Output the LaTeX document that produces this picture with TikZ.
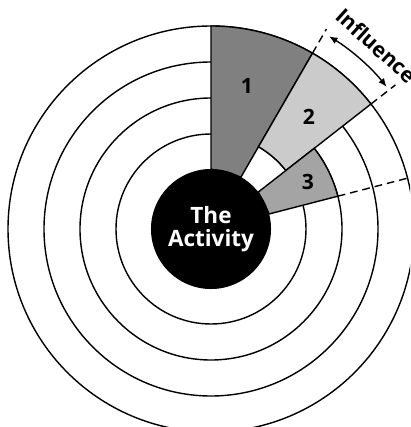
\documentclass[tikz,border=0pt]{standalone}
\usepackage{fontspec}
\setmainfont{Open Sans}
\usepackage{tikz}
\usetikzlibrary{arrows.meta}
\definecolor{secone}{HTML}{808080}
\definecolor{sectwo}{HTML}{CBCBCB}
\definecolor{secthree}{HTML}{A4A4A4}
\tikzset{
  ring/.style={draw=black,line width=1pt},
  sec/.style={draw=black,line width=1pt},
  hub/.style={circle,fill=black,text=white,minimum size=3cm,inner sep=0pt,align=center,font=\fontsize{16}{16.5}\selectfont\bfseries},
  num/.style={font=\fontsize{15}{15}\selectfont\bfseries},
  guide/.style={line width=1pt,dash pattern=on 5.5pt off 3.5pt},
  arr/.style={{Latex[length=6pt,width=5pt]}-{Latex[length=6pt,width=5pt]},line width=1pt},
  lbl/.style={font=\fontsize{15}{15}\selectfont\bfseries},
}
\begin{document}
\begin{tikzpicture}[x=0.025cm,y=0.025cm]
  \clip (-211,-198) rectangle (199,229);
  % rings
  \foreach \r in {95,131,167,203}
    \draw[ring] (0,0) circle[radius=\r];
  % the three sectors
  \filldraw[sec,fill=secone] (90:60) -- (90:203) arc[start angle=90,end angle=60,radius=203] -- (60:60) -- cycle;
  \filldraw[sec,fill=sectwo] (60:95) -- (60:203) arc[start angle=60,end angle=38,radius=203] -- (38:95) arc[start angle=38,end angle=60,radius=95] -- cycle;
  \filldraw[sec,fill=secthree] (38:60) -- (38:131) arc[start angle=38,end angle=14.5,radius=131] -- (14.5:60) -- cycle;
  \node[num] (n1) at (36,143) {1};
  \node[num] (n2) at (98,112) {2};
  \node[num] (n3) at (97,47) {3};
  % centre
  \node[hub] (act) at (0,0) {The\\Activity};
  % influence span
  \draw[guide] (60:203) -- (60:231);
  \draw[guide] (38:203) -- (38:234);
  \draw[guide] (14.5:131) -- (14.5:260);
  \draw[arr] (58.5:226) arc[start angle=58.5,end angle=39,radius=226];
  \node[lbl,rotate=-42] (infl) at (48:247) {Influence};
\end{tikzpicture}
\end{document}
